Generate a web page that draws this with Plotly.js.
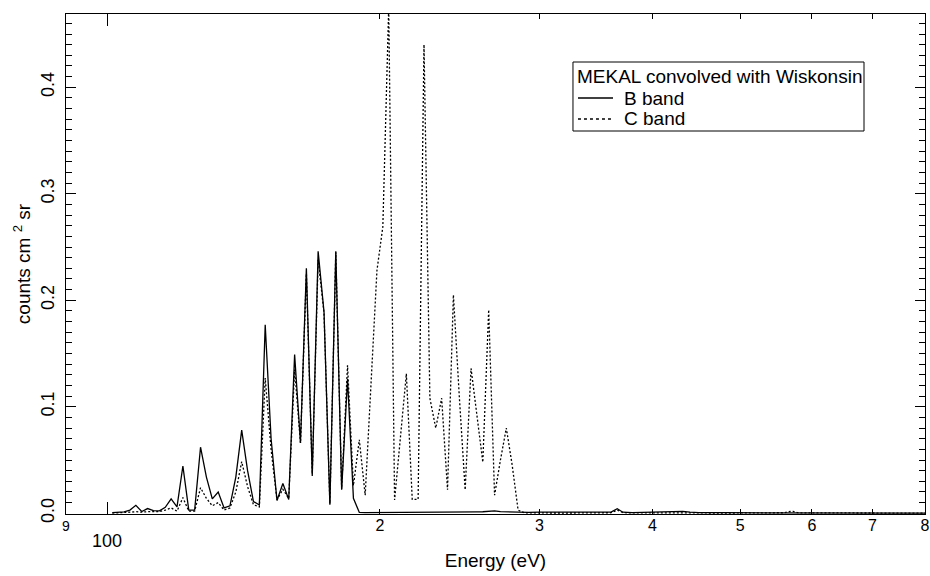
<!DOCTYPE html>
<html>
<head>
<meta charset="utf-8">
<script src="https://cdn.plot.ly/plotly-3.0.1.min.js"></script>
<style>html,body{margin:0;padding:0;background:#fff;}#chart{width:930px;height:576px;}</style>
</head>
<body>
<div id="chart"></div>
<script>
// Energy grid (eV)
const energy = [
  101.25,102.78,104.33,105.90,107.50,109.12,110.76,112.43,114.13,115.85,
  117.59,119.36,121.16,122.99,124.84,126.72,128.63,130.57,132.54,134.54,
  136.57,138.62,140.71,142.83,144.98,147.17,149.38,151.63,153.92,156.24,
  158.59,160.98,163.40,165.87,168.37,170.90,173.48,176.09,178.75,181.44,
  184.17,186.95,189.77,192.63,195.53,198.48,201.47,204.51,207.59,210.72,
  213.89,217.12,220.39,223.71,227.08,230.50,233.98,237.50,241.08,244.72,
  248.40,252.15,255.95,259.80,263.72,267.69,271.73,275.82,279.98,284.20,
  288.48,
  292,300,320,340,355,360,365.7,371,380,400,412,418,425,432,440,450,480,520,560,565,572,580,620,700,800
];
// B band
const bBand = [
  0.0006,0.001,0.0013,0.003,0.0075,0.0016,0.0044,0.0025,0.0022,0.0056,
  0.0135,0.006,0.0444,0.003,0.003,0.062,0.034,0.0135,0.020,0.005,
  0.007,0.034,0.078,0.04,0.011,0.0078,0.177,0.07,0.012,0.028,
  0.013,0.149,0.066,0.230,0.035,0.246,0.189,0.008,0.246,0.022,
  0.126,0.014,0.0008,0.0006,0.0006,0.0006,0.0006,0.0007,0.0007,0.0007,
  0.0008,0.0008,0.0008,0.0009,0.001,0.001,0.001,0.001,0.0011,0.0012,
  0.0012,0.0013,0.0013,0.0014,0.0016,0.0022,0.0015,0.0013,0.0012,0.0011,
  0.001,
  0.0008,0.001,0.0008,0.001,0.0008,0.001,0.0042,0.001,0.0006,0.0008,0.001,0.0014,0.0012,0.0018,0.001,0.0006,0.0005,0.0004,0.0004,0.0004,0.0005,0.0004,0.0003,0.0002,0.0002
];
// C band
const cBand = [
  0.0002,0.0003,0.0005,0.001,0.0015,0.001,0.0015,0.0012,0.0015,0.003,
  0.005,0.002,0.0147,0.002,0.002,0.024,0.014,0.007,0.01,0.003,
  0.005,0.02,0.0485,0.025,0.008,0.006,0.127,0.06,0.0125,0.0225,
  0.014,0.135,0.066,0.225,0.037,0.238,0.188,0.009,0.245,0.023,
  0.139,0.026,0.069,0.017,0.12,0.228,0.269,0.475,0.0125,0.07,
  0.131,0.013,0.013,0.44,0.108,0.08,0.108,0.022,0.205,0.11,
  0.022,0.136,0.09,0.048,0.191,0.017,0.05,0.08,0.045,0.003,
  0.0005,
  0.0003,0.0003,0.0002,0.0003,0.0003,0.0005,0.003,0.0006,0.0003,0.0003,0.0005,0.001,0.0008,0.001,0.0006,0.0003,0.0002,0.0003,0.0005,0.0015,0.0018,0.0004,0.0002,0.0002,0.0001
];
const seriesNames = ["B band", "C band"];
const legendTitle = "MEKAL convolved with Wiskonsin";
const xTickVals = [90,200,300,400,500,600,700,800];
const xTickText = ["<span style='font-size:14px'>9</span>","2","3","4","5","6","7","8"];
const yTickVals = [0,0.1,0.2,0.3,0.4];
const yTickText = ["0.0","0.1","0.2","0.3","0.4"];

const FONT = "Liberation Sans, Arial, Helvetica, sans-serif";
const B_LINE = {color: "#000", width: 1.3};
const C_LINE = {color: "#000", width: 1.3, dash: "2px,2px"};

const traces = [
  {x: energy, y: bBand, name: seriesNames[0], type: "scatter", mode: "lines", line: B_LINE},
  {x: energy, y: cBand, name: seriesNames[1], type: "scatter", mode: "lines", line: C_LINE}
];

// hand-built legend box (paper coordinates)
const LG = {x0: 0.5902, x1: 0.9290, y0: 0.766, y1: 0.904};
const rows = [0.832, 0.79];
const shapes = [
  {type: "rect", xref: "paper", yref: "paper", x0: LG.x0, x1: LG.x1, y0: LG.y0, y1: LG.y1,
   line: {color: "#000", width: 1}, fillcolor: "#fff", layer: "above"},
  {type: "line", xref: "paper", yref: "paper", x0: 0.5960, x1: 0.6368, y0: rows[0], y1: rows[0], line: B_LINE, layer: "above"},
  {type: "line", xref: "paper", yref: "paper", x0: 0.5960, x1: 0.6368, y0: rows[1], y1: rows[1], line: {color: "#000", width: 1.3, dash: "dot"}, layer: "above"}
];
const annotations = [
  {x: 2, y: 0, xref: "x", yref: "paper", yshift: -27, text: "100", showarrow: false,
   font: {size: 18, family: FONT}, xanchor: "center", yanchor: "middle"},
  {x: 0.5925, y: 0.876, xref: "paper", yref: "paper", text: legendTitle, showarrow: false,
   font: {size: 19, family: FONT}, xanchor: "left", yanchor: "middle"},
  {x: 0.6473, y: rows[0], xref: "paper", yref: "paper", text: seriesNames[0], showarrow: false,
   font: {size: 19, family: FONT}, xanchor: "left", yanchor: "middle"},
  {x: 0.6473, y: rows[1], xref: "paper", yref: "paper", text: seriesNames[1], showarrow: false,
   font: {size: 19, family: FONT}, xanchor: "left", yanchor: "middle"}
];

const layout = {
  width: 930, height: 576,
  margin: {l: 66, r: 5, t: 14, b: 62},
  paper_bgcolor: "#fff", plot_bgcolor: "#fff",
  font: {family: FONT, color: "#000", size: 16},
  showlegend: false,
  xaxis: {
    type: "log",
    range: [Math.log10(90), Math.log10(800)],
    tickmode: "array", tickvals: xTickVals, ticktext: xTickText,
    tickfont: {size: 16, family: FONT},
    ticks: "inside", ticklen: 5, tickwidth: 1, tickcolor: "#000",
    ticklabelstandoff: -3,
    minor: {tickmode: "array", tickvals: [100], ticks: "inside", ticklen: 12, tickwidth: 1, tickcolor: "#000"},
    showline: true, linecolor: "#000", linewidth: 1, mirror: "allticks",
    showgrid: false, zeroline: false,
    title: {text: "Energy (eV)", font: {size: 19, family: FONT}, standoff: 20}
  },
  yaxis: {
    range: [-0.0007, 0.4688],
    tickmode: "array", tickvals: yTickVals, ticktext: yTickText,
    tickangle: -90,
    tickfont: {size: 18, family: FONT},
    ticks: "inside", ticklen: 10, tickwidth: 1, tickcolor: "#000",
    ticklabelstandoff: 4,
    minor: {dtick: 0.01, tick0: 0, ticks: "inside", ticklen: 6, tickwidth: 1, tickcolor: "#000"},
    showline: true, linecolor: "#000", linewidth: 1, mirror: "allticks",
    showgrid: false, zeroline: false,
    title: {text: "counts cm <sup>2</sup> sr", font: {size: 19, family: FONT}, standoff: 2}
  },
  shapes: shapes,
  annotations: annotations
};

Plotly.newPlot("chart", traces, layout, {staticPlot: true, displayModeBar: false});
</script>
</body>
</html>
